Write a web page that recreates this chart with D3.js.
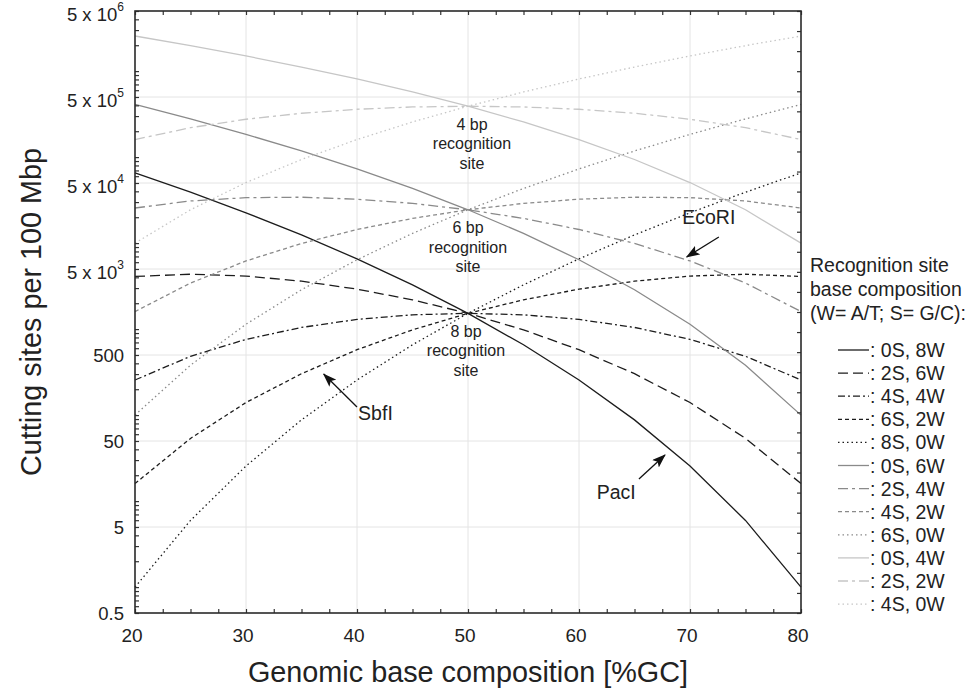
<!DOCTYPE html>
<html>
<head>
<meta charset="utf-8">
<script src="https://cdn.jsdelivr.net/npm/d3@7/dist/d3.min.js"></script>
<style>
  body { margin: 0; background: #fff; }
  text { font-family: "Liberation Sans", Arial, sans-serif; fill: #222; }
</style>
</head>
<body>
<div id="chart"></div>
<script>
// genomic GC content (%)
var gc = [20, 25, 30, 35, 40, 45, 50, 55, 60, 65, 70, 75, 80];

// cutting sites per 100 Mbp, 8 bp sites
var s0w8 = [65536, 39106, 22519, 12447, 6561, 3271, 1526, 657, 256, 88, 25.6, 5.96, 1];
var s2w6 = [4096, 4345, 4136, 3609, 2916, 2190, 1526, 981, 576, 303, 140, 53.6, 16];
var s4w4 = [256, 483, 760, 1046, 1296, 1466, 1526, 1466, 1296, 1046, 760, 483, 256];
var s6w2 = [16, 53.6, 140, 303, 576, 981, 1526, 2190, 2916, 3609, 4136, 4345, 4096];
var s8w0 = [1, 5.96, 25.6, 88, 256, 657, 1526, 3271, 6561, 12447, 22519, 39106, 65536];
// 6 bp sites
var s0w6 = [409600, 278090, 183827, 117842, 72900, 43251, 24414, 12975, 6400, 2872, 1139, 381, 100];
var s2w4 = [25600, 30899, 33764, 34167, 32400, 28953, 24414, 19382, 14400, 9907, 6202, 3433, 1600];
var s4w2 = [1600, 3433, 6202, 9907, 14400, 19382, 24414, 28953, 32400, 34167, 33764, 30899, 25600];
var s6w0 = [100, 381, 1139, 2872, 6400, 12975, 24414, 43251, 72900, 117842, 183827, 278090, 409600];
// 4 bp sites
var s0w4 = [2560000, 1977539, 1500625, 1115664, 810000, 571914, 390625, 256289, 160000, 93789, 50625, 24414, 10000];
var s2w2 = [160000, 219727, 275625, 323477, 360000, 382852, 390625, 382852, 360000, 323477, 275625, 219727, 160000];
var s4w0 = [10000, 24414, 50625, 93789, 160000, 256289, 390625, 571914, 810000, 1115664, 1500625, 1977539, 2560000];

var seriesLabels = [": 0S, 8W", ": 2S, 6W", ": 4S, 4W", ": 6S, 2W", ": 8S, 0W",
                    ": 0S, 6W", ": 2S, 4W", ": 4S, 2W", ": 6S, 0W",
                    ": 0S, 4W", ": 2S, 2W", ": 4S, 0W"];

var xTickLabels = [20, 30, 40, 50, 60, 70, 80];
var yTickValues = [0.5, 5, 50, 500, 5000, 50000, 500000, 5000000];
var yTickLabels = [["0.5", ""], ["5", ""], ["50", ""], ["500", ""],
                   ["5 x 10", "3"], ["5 x 10", "4"], ["5 x 10", "5"], ["5 x 10", "6"]];

var siteLabels = [["4 bp", "recognition", "site"], ["6 bp", "recognition", "site"], ["8 bp", "recognition", "site"]];
var sitePoints = [390625, 24414, 1526];   // where the curves cross at 50 %GC

var enzymes = ["SbfI", "EcoRI", "PacI"];
// label anchor and arrow tail / head, in data units
var enzymeLabel = [[40.1, 106], [69.3, 19900], [61.6, 12.8]];
var arrowTail = [[40.0, 124], [72.6, 11800], [65.4, 18.1]];
var arrowHead = [[37.0, 300], [69.7, 6900], [67.75, 34.4]];

var allSeries = [s0w8, s2w6, s4w4, s6w2, s8w0, s0w6, s2w4, s4w2, s6w0, s0w4, s2w2, s4w0];

// styles per series
var black = "#1c1c1c", grey = "#8a8a8a", light = "#c6c6c6";
var styles = [
  {c: black, d: null}, {c: black, d: "10,5"}, {c: black, d: "7,3,2,3"}, {c: black, d: "4,3"}, {c: black, d: "1.5,3"},
  {c: grey, d: null}, {c: grey, d: "10,4,3,4"}, {c: grey, d: "4,3"}, {c: grey, d: "1.5,3"},
  {c: light, d: null}, {c: light, d: "10,4,3,4"}, {c: light, d: "1.5,3"}
];

var W = 971, H = 688;
var plot = {left: 135, top: 11, right: 801, bottom: 613};

var svg = d3.select("#chart").append("svg")
  .attr("width", W)
  .attr("height", H);

var x = d3.scaleLinear().domain([20, 80]).range([plot.left, plot.right]);
var y = d3.scaleLog().domain([0.5, 5e6]).range([plot.bottom, plot.top]);
var yRight = d3.scaleLinear().domain([0, 30]).range([plot.bottom, plot.top]);

// grid
svg.append("g").selectAll("line")
  .data(xTickLabels.slice(1, -1)).enter().append("line")
  .attr("x1", d => x(d)).attr("x2", d => x(d))
  .attr("y1", plot.top).attr("y2", plot.bottom)
  .attr("stroke", "#e4e4e4").attr("stroke-width", 1);

svg.append("g").selectAll("line")
  .data(yTickValues.slice(1, -1)).enter().append("line")
  .attr("x1", plot.left).attr("x2", plot.right)
  .attr("y1", d => y(d)).attr("y2", d => y(d))
  .attr("stroke", "#e4e4e4").attr("stroke-width", 1);

// curves
var line = d3.line()
  .x((d, i) => x(gc[i]))
  .y(d => y(d));

svg.append("g").selectAll("path")
  .data(allSeries).enter().append("path")
  .attr("d", line)
  .attr("fill", "none")
  .attr("stroke", (d, i) => styles[i].c)
  .attr("stroke-width", 1.3)
  .attr("stroke-dasharray", (d, i) => styles[i].d);

// inward ticks on all four sides
function tickAxis(axis, tx, ty) {
  var g = svg.append("g").attr("transform", "translate(" + tx + "," + ty + ")").call(axis);
  g.select(".domain").remove();
  g.selectAll(".tick line").attr("stroke", "#333").attr("stroke-width", 1.2);
}
tickAxis(d3.axisLeft(y).tickValues(y.ticks()).tickSize(-4).tickFormat(""), plot.left, 0);
tickAxis(d3.axisRight(yRight).tickValues(d3.range(0, 31)).tickSize(-4).tickFormat(""), plot.right, 0);
tickAxis(d3.axisBottom(x).tickValues(d3.range(20, 80.1, 2.5)).tickSize(-4).tickFormat(""), 0, plot.bottom);
tickAxis(d3.axisTop(x).tickValues(d3.range(20, 80.1, 2.5)).tickSize(-4).tickFormat(""), 0, plot.top);

// frame
svg.append("rect")
  .attr("x", plot.left).attr("y", plot.top)
  .attr("width", plot.right - plot.left).attr("height", plot.bottom - plot.top)
  .attr("fill", "none").attr("stroke", "#2a2a2a").attr("stroke-width", 1.6);

// tick labels
svg.append("g").selectAll("text")
  .data(xTickLabels).enter().append("text")
  .attr("x", d => x(d) - 3).attr("y", plot.bottom + 22)
  .attr("text-anchor", "middle").attr("dominant-baseline", "central")
  .style("font-size", "19px")
  .text(d => d);

var yl = svg.append("g").selectAll("text")
  .data(yTickValues).enter().append("text")
  .attr("x", plot.left - 11)
  .attr("y", (d, i) => y(d) + (yTickLabels[i][1] ? 3 : 0))
  .attr("text-anchor", "end").attr("dominant-baseline", "central")
  .style("font-size", "18.5px");
yl.append("tspan").text((d, i) => yTickLabels[i][0]);
yl.append("tspan")
  .attr("dy", "-7")
  .style("font-size", "12px")
  .text((d, i) => yTickLabels[i][1]);

// axis titles
svg.append("text")
  .attr("x", (plot.left + plot.right) / 2).attr("y", 672)
  .attr("text-anchor", "middle").attr("dominant-baseline", "central")
  .style("font-size", "28.8px")
  .text("Genomic base composition [%GC]");

svg.append("text")
  .attr("transform", "translate(31," + (plot.top + plot.bottom) / 2 + ") rotate(-90)")
  .attr("text-anchor", "middle").attr("dominant-baseline", "central")
  .style("font-size", "28.8px")
  .text("Cutting sites per 100 Mbp");

// recognition site labels
var offs = [4, 0, -2];
siteLabels.forEach(function(lines, k) {
  var t = svg.append("text")
    .attr("text-anchor", "middle")
    .style("font-size", "16px");
  lines.forEach(function(s, j) {
    t.append("tspan")
      .attr("x", x(50) + offs[k])
      .attr("y", y(sitePoints[k]) + 18 + j * 19.4)
      .attr("dominant-baseline", "central")
      .text(s);
  });
});

// enzyme arrows
svg.append("defs").append("marker")
  .attr("id", "head")
  .attr("markerUnits", "userSpaceOnUse")
  .attr("markerWidth", 14).attr("markerHeight", 10)
  .attr("refX", 13).attr("refY", 5)
  .attr("orient", "auto")
  .append("path")
  .attr("d", "M0,0 L14,5 L0,10 L3,5 Z")
  .attr("fill", "#111");

svg.append("g").selectAll("line")
  .data(enzymes).enter().append("line")
  .attr("x1", (d, i) => x(arrowTail[i][0])).attr("y1", (d, i) => y(arrowTail[i][1]))
  .attr("x2", (d, i) => x(arrowHead[i][0])).attr("y2", (d, i) => y(arrowHead[i][1]))
  .attr("stroke", "#111").attr("stroke-width", 1.3)
  .attr("marker-end", "url(#head)");

svg.append("g").selectAll("text")
  .data(enzymes).enter().append("text")
  .attr("x", (d, i) => x(enzymeLabel[i][0])).attr("y", (d, i) => y(enzymeLabel[i][1]))
  .attr("dominant-baseline", "central")
  .style("font-size", "19.5px")
  .text(d => d);

// legend
var legendTitle = ["Recognition site", "base composition", "(W= A/T; S= G/C):"];
svg.append("g").selectAll("text")
  .data(legendTitle).enter().append("text")
  .attr("x", 810).attr("y", (d, i) => 265 + i * 24)
  .attr("dominant-baseline", "central")
  .style("font-size", "19.5px")
  .text(d => d);

var leg = svg.append("g").selectAll("g")
  .data(seriesLabels).enter().append("g")
  .attr("transform", (d, i) => "translate(0," + (350 + i * 23.1) + ")");
leg.append("line")
  .attr("x1", 838).attr("x2", 869)
  .attr("stroke", (d, i) => styles[i].c)
  .attr("stroke-width", 1.3)
  .attr("stroke-dasharray", (d, i) => styles[i].d);
leg.append("text")
  .attr("x", 870).attr("dominant-baseline", "central")
  .style("font-size", "19.5px")
  .text(d => d);
</script>
</body>
</html>
